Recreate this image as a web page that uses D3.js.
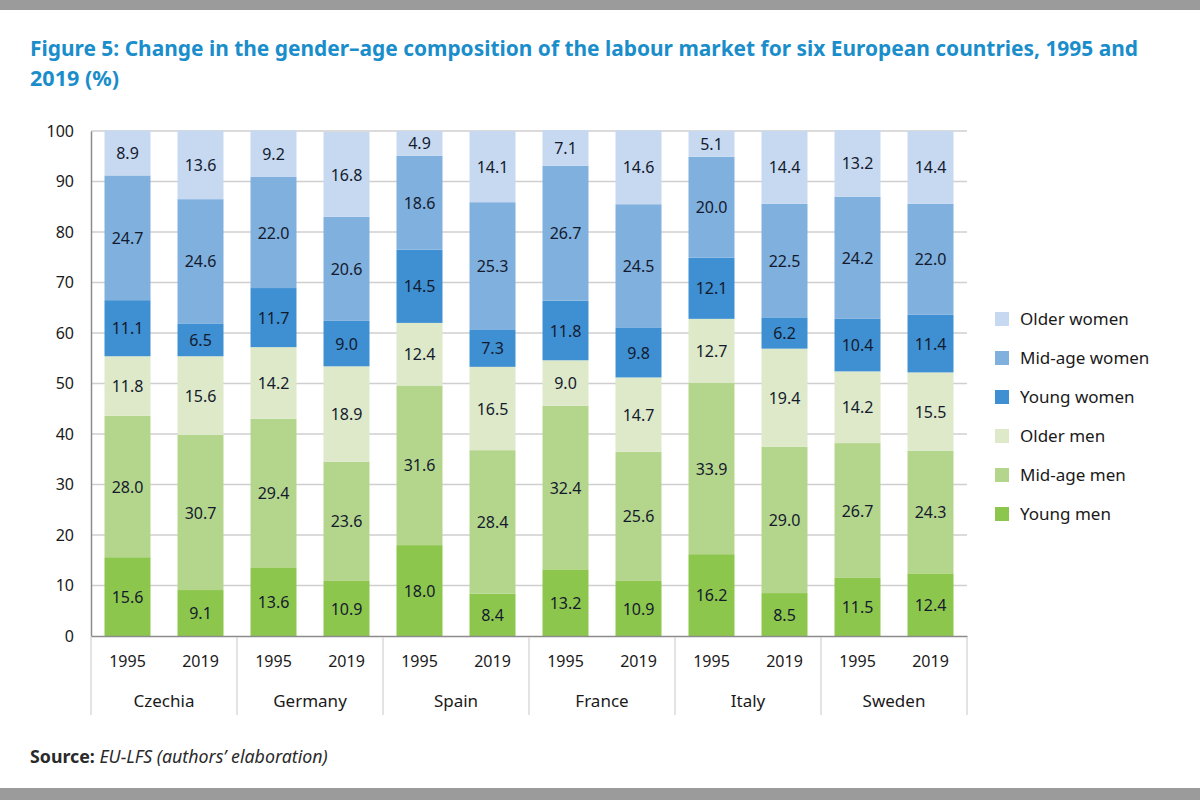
<!DOCTYPE html>
<html>
<head>
<meta charset="utf-8">
<script src="https://cdn.jsdelivr.net/npm/d3@7"></script>
<style>
  html, body { margin: 0; padding: 0; background: #fff; }
  svg { display: block; font-family: "Noto Sans", "Open Sans", sans-serif; }
</style>
</head>
<body>
<svg id="chart" width="1200" height="800"></svg>
<script>
// ---- Data ----
const countries = ["Czechia", "Germany", "Spain", "France", "Italy", "Sweden"];
const years = ["1995", "2019"];
const seriesNames = ["Young men", "Mid-age men", "Older men", "Young women", "Mid-age women", "Older women"];
const seriesColors = ["#8dc64c", "#b4d68c", "#dde9c9", "#3e90d2", "#7fb0de", "#c6d9f1"];
const yTicks = [0, 10, 20, 30, 40, 50, 60, 70, 80, 90, 100];

// values per bar (country-year), bottom to top in the order of seriesNames
const youngMen    = [15.6, 9.1, 13.6, 10.9, 18.0, 8.4, 13.2, 10.9, 16.2, 8.5, 11.5, 12.4];
const midAgeMen   = [28.0, 30.7, 29.4, 23.6, 31.6, 28.4, 32.4, 25.6, 33.9, 29.0, 26.7, 24.3];
const olderMen    = [11.8, 15.6, 14.2, 18.9, 12.4, 16.5, 9.0, 14.7, 12.7, 19.4, 14.2, 15.5];
const youngWomen  = [11.1, 6.5, 11.7, 9.0, 14.5, 7.3, 11.8, 9.8, 12.1, 6.2, 10.4, 11.4];
const midAgeWomen = [24.7, 24.6, 22.0, 20.6, 18.6, 25.3, 26.7, 24.5, 20.0, 22.5, 24.2, 22.0];
const olderWomen  = [8.9, 13.6, 9.2, 16.8, 4.9, 14.1, 7.1, 14.6, 5.1, 14.4, 13.2, 14.4];

const seriesValues = [youngMen, midAgeMen, olderMen, youngWomen, midAgeWomen, olderWomen];

// ---- Build table ----
const bars = [];
countries.forEach((c, ci) => years.forEach((yr, yi) => {
  const i = ci * 2 + yi;
  const row = { key: c + "|" + yr, country: c, year: yr };
  seriesNames.forEach((s, si) => row[s] = seriesValues[si][i]);
  bars.push(row);
}));

const svg = d3.select("#chart");

// frame bands
svg.append("rect").attr("x", 0).attr("y", 0).attr("width", 1200).attr("height", 10).attr("fill", "#9b9b9b");
svg.append("rect").attr("x", 0).attr("y", 788).attr("width", 1200).attr("height", 12).attr("fill", "#9b9b9b");

// title
const titleColor = "#1a8dcb";
svg.append("text").attr("x", 30).attr("y", 56)
  .attr("fill", titleColor).attr("font-weight", "bold").attr("font-size", 22)
  .attr("textLength", 1108).attr("lengthAdjust", "spacingAndGlyphs")
  .text("Figure 5: Change in the gender\u2013age composition of the labour market for six European countries, 1995 and");
svg.append("text").attr("x", 30).attr("y", 86)
  .attr("fill", titleColor).attr("font-weight", "bold").attr("font-size", 22)
  .attr("textLength", 89).attr("lengthAdjust", "spacingAndGlyphs")
  .text("2019 (%)");

// scales
const pLeft = 91, pRight = 967, pTop = 131, pBottom = 636;
const x = d3.scaleBand().domain(bars.map(d => d.key)).range([pLeft, pRight]).paddingInner(0.37).paddingOuter(0.185);
const y = d3.scaleLinear().domain([0, 100]).range([pBottom, pTop]);

// gridlines
svg.append("g").selectAll("line").data(yTicks.filter(t => t > 0)).join("line")
  .attr("x1", pLeft).attr("x2", pRight)
  .attr("y1", d => y(d)).attr("y2", d => y(d))
  .attr("stroke", "#cfcfcf").attr("stroke-width", 1.3);

// y axis
const yAxis = d3.axisLeft(y).tickValues(yTicks).tickSize(0).tickPadding(17);
const gy = svg.append("g").attr("transform", `translate(${pLeft},0)`).call(yAxis);
gy.select(".domain").attr("stroke", "#8c8c8c").attr("stroke-width", 1.5);
gy.selectAll("text").attr("font-size", 16).attr("fill", "#1a1a1a").attr("font-family", "Noto Sans");

// stacked bars
const stack = d3.stack().keys(seriesNames);
const stacked = stack(bars);

const layers = svg.append("g").selectAll("g").data(stacked).join("g")
  .attr("fill", (d, i) => seriesColors[i]);
layers.selectAll("rect").data(d => d).join("rect")
  .attr("x", d => x(d.data.key))
  .attr("width", x.bandwidth())
  .attr("y", d => y(d[1]))
  .attr("height", d => y(d[0]) - y(d[1]));

// labels
const labelG = svg.append("g");
stacked.forEach((layer) => {
  labelG.append("g").selectAll("text").data(layer).join("text")
    .attr("x", d => x(d.data.key) + x.bandwidth() / 2)
    .attr("y", d => y((d[0] + d[1]) / 2))
    .attr("dy", "0.38em")
    .attr("text-anchor", "middle")
    .attr("font-size", 16)
    .attr("fill", "#141a2e")
    .text(d => d3.format(".1f")(d.data[layer.key]));
});

// x axis line
const xAxis = d3.axisBottom(x).tickSize(0).tickPadding(20).tickFormat(k => k.split("|")[1]);
const gx = svg.append("g").attr("transform", `translate(0,${pBottom})`).call(xAxis);
gx.select(".domain").attr("stroke", "#8c8c8c").attr("stroke-width", 1.5);
gx.selectAll("text").attr("font-size", 16).attr("fill", "#1a1a1a").attr("font-family", "Noto Sans");

// group separators
const groupW = (pRight - pLeft) / countries.length;
const sepX = d3.range(countries.length + 1).map(i => pLeft + i * groupW);
svg.append("g").selectAll("line").data(sepX).join("line")
  .attr("x1", d => d).attr("x2", d => d)
  .attr("y1", pBottom + 1).attr("y2", 715)
  .attr("stroke", "#d4d4d4").attr("stroke-width", 1.3);

// country labels
const xc = d3.scaleBand().domain(countries).range([pLeft, pRight]);
svg.append("g").selectAll("text").data(countries).join("text")
  .attr("x", d => xc(d) + xc.bandwidth() / 2)
  .attr("y", 707)
  .attr("text-anchor", "middle")
  .attr("font-size", 17)
  .attr("fill", "#1a1a1a")
  .text(d => d);

// legend (top to bottom: Older women ... Young men)
const legendOrder = seriesNames.map((s, i) => ({ name: s, color: seriesColors[i] })).reverse();
const lg = svg.append("g").selectAll("g").data(legendOrder).join("g")
  .attr("transform", (d, i) => `translate(995,${319 + i * 39})`);
lg.append("rect").attr("x", 0).attr("y", -7).attr("width", 14).attr("height", 14).attr("fill", d => d.color);
lg.append("text").attr("x", 25).attr("y", 0).attr("dy", "0.35em")
  .attr("font-size", 17).attr("fill", "#1a1a1a").text(d => d.name);

// source
const src = svg.append("text").attr("x", 30).attr("y", 763).attr("font-size", 17.8).attr("fill", "#2a2a2a");
src.append("tspan").attr("font-weight", "bold").text("Source: ");
src.append("tspan").attr("font-style", "italic").text("EU-LFS (authors\u2019 elaboration)");
</script>
</body>
</html>
